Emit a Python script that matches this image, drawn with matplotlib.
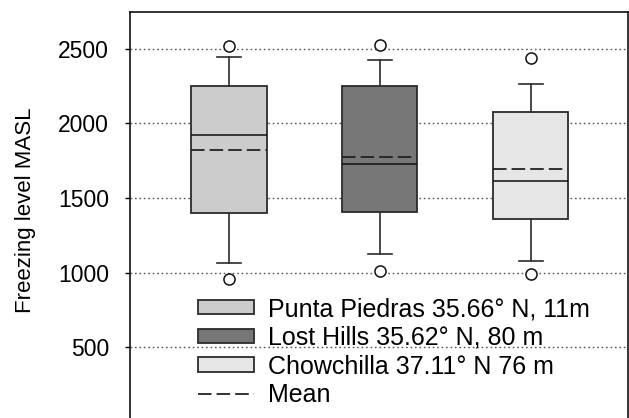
import matplotlib
matplotlib.use("Agg")
import matplotlib.pyplot as plt
from matplotlib.patches import Patch
from matplotlib.lines import Line2D

plt.rcParams['font.family'] = ['Liberation Sans', 'DejaVu Sans']

stations = ["Punta Piedras 35.66° N, 11m", "Lost Hills 35.62° N, 80 m", "Chowchilla 37.11° N 76 m"]
q1 = [1402, 1409, 1357]
median = [1924, 1730, 1614]
q3 = [2250, 2250, 2076]
mean = [1824, 1775, 1692]
whislo = [1067, 1127, 1078]
whishi = [2444, 2426, 2261]
fliers = [[2518, 960], [2527, 1008], [2437, 993]]
colors = ["#cccccc", "#777777", "#e6e6e6"]
yticks = [500, 1000, 1500, 2000, 2500]

fig = plt.figure(figsize=(6.29, 4.18), dpi=100)
ax = fig.add_axes([130/629, (418-422)/418, (628-130)/629, (422-12)/418])

stats = []
for i in range(3):
    stats.append(dict(med=median[i], q1=q1[i], q3=q3[i], whislo=whislo[i],
                      whishi=whishi[i], fliers=fliers[i], mean=mean[i]))

edge = "#2b2b2b"
bp = ax.bxp(stats, positions=[1, 2, 3], widths=0.5, capwidths=0.16,
            patch_artist=True, showmeans=True, meanline=True,
            boxprops=dict(edgecolor=edge, linewidth=1.3),
            whiskerprops=dict(color=edge, linewidth=1.2),
            capprops=dict(color=edge, linewidth=1.2),
            medianprops=dict(color="#111111", linewidth=1.1),
            meanprops=dict(color="#222222", linewidth=1.3, linestyle=(0, (7.5, 2.8))),
            flierprops=dict(marker='o', markersize=8, markerfacecolor='white',
                            markeredgecolor="#111111", markeredgewidth=1.1),
            zorder=3)
for patch, c in zip(bp['boxes'], colors):
    patch.set_facecolor(c)

ax.set_xlim(0.345, 3.645)
ax.set_ylim(0, 2745)
ax.set_yticks(yticks)
ax.set_xticks([])
ax.tick_params(axis='y', labelsize=16.5, length=3.6, width=1, pad=11.5)
ax.grid(axis='y', color="#555555", linestyle=(0, (1.2, 2.0)), linewidth=1.0, zorder=0)
ax.set_axisbelow(True)
for s in ax.spines.values():
    s.set_linewidth(1.2)
    s.set_color("#111111")
ax.set_ylabel("Freezing level MASL", fontsize=16)
ax.yaxis.set_label_coords(-(130 - 36) / (628 - 130), (422 - 210) / 410)

handles = [Patch(facecolor=c, edgecolor=edge, linewidth=1.3) for c in colors]
handles.append(Line2D([0], [0], color="#222222", linewidth=1.3, linestyle=(0, (7.5, 2.8))))
labels = stations + ["Mean"]
leg = fig.legend(handles, labels, loc='upper left', bbox_to_anchor=(198/629, (418-297)/418),
                 frameon=False, fontsize=18, handlelength=2.24, handleheight=0.52,
                 handletextpad=0.56, labelspacing=0.19, borderpad=0, borderaxespad=0)

fig.savefig("out.png", dpi=100)
